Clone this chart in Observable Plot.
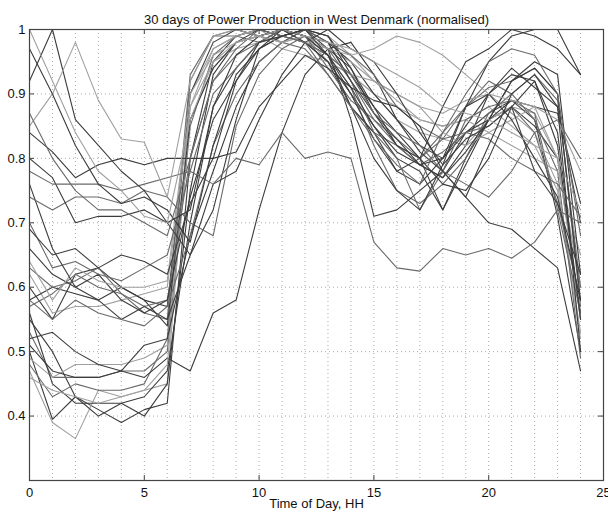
<!DOCTYPE html>
<html><head><meta charset="utf-8">
<script src="https://cdn.jsdelivr.net/npm/d3@7"></script>
<script src="https://cdn.jsdelivr.net/npm/@observablehq/plot@0.6"></script>
<style>html,body{margin:0;padding:0;background:#fff;} svg{display:block}</style>
</head><body><div id="chart"></div>
<script>
const title = "30 days of Power Production in West Denmark (normalised)";
const xLabel = "Time of Day, HH";
const hours = [0,1,2,3,4,5,6,7,8,9,10,11,12,13,14,15,16,17,18,19,20,21,22,23,24];
const xTicks = [0,5,10,15,20,25];
const yTicks = [0.4,0.5,0.6,0.7,0.8,0.9,1];
const xGrid = [1,2,3,4,5,6,7,8,9,10,11,12,13,14,15,16,17,18,19,20,21,22,23,24];
const yGrid = [0.4,0.5,0.6,0.7,0.8,0.9];

const day1  = [0.55,0.50,0.43,0.41,0.39,0.41,0.42,0.80,0.95,0.99,1.00,0.99,0.98,0.96,0.90,0.85,0.80,0.78,0.72,0.80,0.86,0.88,0.85,0.80,0.56];
const day2  = [0.47,0.39,0.365,0.44,0.43,0.44,0.45,0.90,0.97,0.99,1.00,0.98,0.99,0.95,0.93,0.90,0.86,0.84,0.83,0.82,0.86,0.88,0.87,0.80,0.60];
const day3  = [0.50,0.395,0.43,0.40,0.42,0.40,0.45,0.75,0.93,0.98,0.99,1.00,0.99,0.97,0.94,0.88,0.82,0.79,0.77,0.82,0.90,0.93,0.92,0.82,0.55];
const day4  = [0.53,0.46,0.46,0.46,0.47,0.47,0.50,0.85,0.96,0.99,0.98,0.99,1.00,0.98,0.92,0.86,0.83,0.80,0.84,0.88,0.91,0.92,0.94,0.90,0.57];
const day5  = [0.49,0.46,0.48,0.48,0.48,0.49,0.51,0.88,0.95,0.97,0.98,1.00,0.99,0.96,0.93,0.90,0.88,0.86,0.85,0.86,0.88,0.85,0.82,0.75,0.52];
const day6  = [0.56,0.45,0.42,0.42,0.42,0.43,0.47,0.70,0.88,0.94,0.98,1.00,0.99,0.98,0.95,0.90,0.86,0.82,0.80,0.84,0.87,0.89,0.86,0.71,0.50];
const day7  = [0.48,0.43,0.45,0.44,0.44,0.45,0.52,0.92,0.99,1.00,0.99,0.98,0.97,0.93,0.88,0.84,0.82,0.80,0.83,0.88,0.92,0.90,0.86,0.78,0.49];
const day8  = [0.51,0.47,0.46,0.46,0.47,0.46,0.49,0.47,0.56,0.58,0.72,0.84,0.93,0.97,0.98,0.93,0.86,0.81,0.78,0.74,0.70,0.69,0.66,0.63,0.47];
const day9  = [0.46,0.44,0.43,0.42,0.43,0.44,0.48,0.86,0.94,0.98,0.99,0.98,1.00,0.99,0.96,0.92,0.90,0.88,0.87,0.89,0.90,0.87,0.84,0.76,0.53];
const day10 = [0.60,0.55,0.62,0.63,0.60,0.58,0.57,0.90,0.98,1.00,0.99,1.00,0.98,0.95,0.88,0.84,0.78,0.76,0.80,0.85,0.90,0.94,0.91,0.88,0.70];
const day11 = [0.57,0.59,0.62,0.60,0.59,0.56,0.55,0.93,0.99,0.99,1.00,0.99,0.98,0.96,0.91,0.82,0.75,0.73,0.76,0.80,0.87,0.90,0.93,0.89,0.60];
const day12 = [0.62,0.56,0.57,0.57,0.58,0.59,0.60,0.88,0.97,0.99,1.00,1.00,0.98,0.97,0.95,0.92,0.89,0.86,0.85,0.86,0.84,0.82,0.80,0.78,0.65];
const day13 = [0.58,0.60,0.59,0.58,0.60,0.58,0.54,0.86,0.94,0.98,1.00,0.99,1.00,0.97,0.86,0.71,0.72,0.75,0.78,0.84,0.86,0.89,0.88,0.87,0.73];
const day14 = [0.63,0.60,0.61,0.63,0.59,0.57,0.58,0.80,0.92,0.96,0.98,1.00,0.99,0.94,0.89,0.86,0.82,0.79,0.81,0.84,0.85,0.88,0.84,0.73,0.58];
const day15 = [0.66,0.62,0.60,0.62,0.58,0.56,0.58,0.74,0.86,0.92,0.97,0.99,1.00,0.99,0.93,0.88,0.84,0.80,0.72,0.79,0.86,0.92,0.95,0.93,0.62];
const day16 = [0.64,0.58,0.63,0.61,0.60,0.60,0.61,0.90,0.96,0.98,0.99,0.97,0.96,0.95,0.93,0.92,0.90,0.88,0.84,0.82,0.84,0.86,0.88,0.80,0.55];
const day17 = [0.52,0.53,0.50,0.48,0.47,0.51,0.52,0.68,0.78,0.88,0.95,0.98,1.00,0.99,0.94,0.87,0.83,0.79,0.77,0.81,0.86,0.92,0.94,0.90,0.58];
const day18 = [0.70,0.63,0.64,0.62,0.61,0.63,0.65,0.78,0.90,0.94,0.98,1.00,0.99,0.97,0.92,0.84,0.80,0.72,0.78,0.86,0.88,0.89,0.87,0.72,0.56];
const day19 = [0.76,0.66,0.60,0.58,0.55,0.57,0.55,0.65,0.72,0.86,0.97,0.99,1.00,0.98,0.92,0.87,0.82,0.80,0.76,0.75,0.80,0.88,0.92,0.84,0.55];
const day20 = [0.58,0.55,0.58,0.56,0.55,0.54,0.57,0.68,0.82,0.90,0.95,0.98,1.00,0.98,0.96,0.93,0.88,0.85,0.83,0.84,0.83,0.80,0.78,0.76,0.71];
const day21 = [0.84,0.81,0.77,0.79,0.80,0.79,0.80,0.80,0.80,0.81,0.88,0.92,0.96,0.94,0.91,0.85,0.81,0.79,0.80,0.88,0.90,0.86,0.80,0.74,0.58];
const day22 = [0.74,0.72,0.74,0.74,0.73,0.75,0.74,0.70,0.68,0.85,0.93,0.97,0.99,0.96,0.93,0.87,0.84,0.82,0.78,0.76,0.74,0.78,0.84,0.86,0.80];
const day23 = [0.80,0.77,0.70,0.71,0.71,0.72,0.70,0.65,0.76,0.78,0.86,0.93,0.98,1.00,0.97,0.95,0.90,0.84,0.79,0.83,0.85,0.88,0.78,0.73,0.62];
const day24 = [0.78,0.76,0.76,0.76,0.75,0.76,0.77,0.78,0.76,0.80,0.79,0.84,0.80,0.81,0.80,0.67,0.63,0.625,0.66,0.65,0.66,0.645,0.67,0.72,0.70];
const day25 = [0.92,1.00,0.86,0.82,0.78,0.75,0.70,0.72,0.88,0.96,0.99,1.00,0.98,0.95,0.90,0.83,0.78,0.80,0.88,0.95,0.97,1.00,0.99,0.97,0.93];
const day26 = [0.85,0.90,0.98,0.89,0.83,0.825,0.74,0.92,0.99,1.00,0.99,0.98,0.99,0.97,0.96,0.97,0.99,0.98,0.96,0.93,0.90,0.89,0.88,0.86,0.78];
const day27 = [0.97,0.90,0.82,0.76,0.73,0.74,0.72,0.67,0.82,0.93,0.97,1.00,0.99,0.96,0.88,0.80,0.75,0.72,0.79,0.88,0.95,0.99,1.00,1.00,0.93];
const day28 = [0.87,0.80,0.75,0.72,0.72,0.70,0.68,0.80,0.92,0.97,1.00,0.99,0.98,0.93,0.88,0.83,0.79,0.76,0.84,0.90,0.95,0.97,0.96,0.90,0.68];
const day29 = [1.00,0.92,0.84,0.78,0.75,0.71,0.70,0.86,0.95,0.98,0.99,1.00,0.99,0.98,0.97,0.95,0.93,0.91,0.88,0.87,0.86,0.84,0.82,0.80,0.72];
const day30 = [0.69,0.65,0.66,0.63,0.65,0.64,0.62,0.73,0.80,0.92,0.98,0.99,1.00,0.96,0.91,0.89,0.88,0.85,0.78,0.74,0.82,0.90,0.93,0.88,0.50];

const days = [day1,day2,day3,day4,day5,day6,day7,day8,day9,day10,day11,day12,day13,day14,day15,
              day16,day17,day18,day19,day20,day21,day22,day23,day24,day25,day26,day27,day28,day29,day30];
const shades = ["#3c3c3c","#a0a0a0","#3c3c3c","#6a6a6a","#a0a0a0","#3c3c3c","#6a6a6a","#3c3c3c","#a0a0a0","#3c3c3c",
                "#6a6a6a","#a0a0a0","#3c3c3c","#6a6a6a","#3c3c3c","#a0a0a0","#3c3c3c","#6a6a6a","#3c3c3c","#6a6a6a",
                "#3c3c3c","#6a6a6a","#3c3c3c","#6a6a6a","#3c3c3c","#a0a0a0","#3c3c3c","#6a6a6a","#a0a0a0","#3c3c3c"];

const rows = [];
days.forEach((vals, i) => vals.forEach((v, j) => rows.push({day: i + 1, hour: hours[j], value: v, shade: shades[i]})));

const W = 608, H = 513, mT = 29, mB = 33, mL = 29, mR = 5;
const fw = W - mL - mR, fh = H - mT - mB;

const chart = Plot.plot({
  width: W, height: H,
  marginTop: mT, marginBottom: mB, marginLeft: mL, marginRight: mR,
  style: {fontFamily: "'Liberation Sans', Arial, sans-serif", fontSize: "13px", color: "#111", background: "#fff", overflow: "visible"},
  x: {domain: [0, 25]},
  y: {domain: [0.3, 1]},
  color: {type: "identity"},
  marks: [
    Plot.ruleX(xGrid, {stroke: "#aaa", strokeDasharray: "1,3", strokeWidth: 1}),
    Plot.ruleY(yGrid, {stroke: "#aaa", strokeDasharray: "1,3", strokeWidth: 1}),
    Plot.line(rows, {x: "hour", y: "value", z: "day", stroke: "shade", strokeWidth: 1.1}),
    Plot.frame({stroke: "#444", strokeWidth: 1.2}),
    Plot.ruleX(xTicks, {insetTop: fh - 5, stroke: "#444"}),
    Plot.ruleX(xTicks, {insetBottom: fh - 5, stroke: "#444"}),
    Plot.ruleY(yTicks, {insetRight: fw - 5, stroke: "#444"}),
    Plot.ruleY(yTicks, {insetLeft: fw - 5, stroke: "#444"}),
    Plot.axisX(xTicks, {tickSize: 0, tickPadding: 7, label: null}),
    Plot.axisY(yTicks, {tickSize: 0, tickPadding: 4, label: null, tickFormat: d => String(d)}),
    Plot.text([title], {frameAnchor: "top", dy: -15, fontSize: 13}),
    Plot.text([xLabel], {frameAnchor: "bottom", dy: 27, fontSize: 13})
  ]
});
document.getElementById("chart").appendChild(chart);
</script>
</body></html>
